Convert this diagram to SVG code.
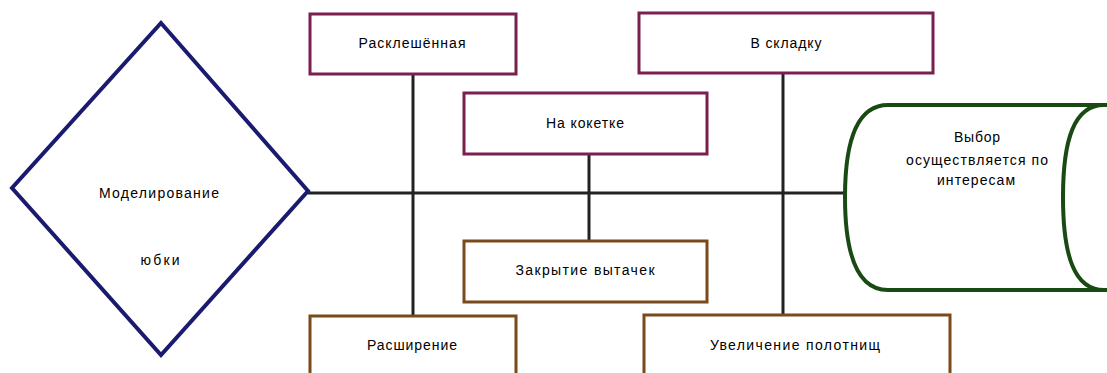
<svg xmlns="http://www.w3.org/2000/svg" width="1107" height="373" viewBox="0 0 1107 373">
<style>
text{font-family:"Liberation Sans",Arial,sans-serif;font-size:14px;fill:#000;text-anchor:middle}
.top{fill:#fff;stroke:#7b1f4f;stroke-width:3}
.bot{fill:#fff;stroke:#7a4a1a;stroke-width:3}
.ln{stroke:#222;stroke-width:3;fill:none}
.cyl{fill:none;stroke:#1a4a14;stroke-width:4}
</style>
<rect width="1107" height="373" fill="#fff"/>
<g id="connectors">
<line class="ln" x1="308" y1="193" x2="848" y2="193" stroke-width="4"/>
<line class="ln" x1="413" y1="74" x2="413" y2="316"/>
<line class="ln" x1="589" y1="154" x2="589" y2="241" stroke="#333"/>
<line class="ln" x1="783" y1="73" x2="783" y2="315"/>
</g>
<g id="n-model">
<polygon points="161,23 308,191 161,355 12,188" fill="#fff" stroke="#1a1a6e" stroke-width="4"/>
<text x="159" y="198" textLength="120" lengthAdjust="spacing">Моделирование</text>
<text x="160" y="265" textLength="39" lengthAdjust="spacing">юбки</text>
</g>
<g id="n-rasklesh">
<rect class="top" x="310" y="14" width="206" height="60"/>
<text x="412" y="48" textLength="107" lengthAdjust="spacing">Расклешённая</text>
</g>
<g id="n-kokietka">
<rect class="top" x="464" y="93" width="243" height="61"/>
<text x="585" y="128" textLength="78" lengthAdjust="spacing">На кокетке</text>
</g>
<g id="n-vskladku">
<rect class="top" x="639" y="13" width="294" height="60"/>
<text x="786" y="48" textLength="71" lengthAdjust="spacing">В складку</text>
</g>
<g id="n-vytachki">
<rect class="bot" x="464" y="241" width="243" height="61"/>
<text x="585" y="275" textLength="139" lengthAdjust="spacing">Закрытие вытачек</text>
</g>
<g id="n-rasshirenie">
<rect class="bot" x="310" y="316" width="206" height="70"/>
<text x="412" y="350" textLength="90" lengthAdjust="spacing">Расширение</text>
</g>
<g id="n-uvelichenie">
<rect class="bot" x="644" y="315" width="306" height="70"/>
<text x="795" y="350" textLength="170" lengthAdjust="spacing">Увеличение полотнищ</text>
</g>
<g id="n-vybor">
<path d="M888,105 L1112,105 L1112,290 L888,290 C858,290 845,255 845,197 C845,140 858,105 888,105 Z" fill="#fff" stroke="none"/>
<path class="cyl" d="M1112,105 L888,105 C858,105 845,140 845,197 C845,255 858,290 888,290 L1112,290"/>
<path class="cyl" d="M1104,105 C1074,105 1063,140 1063,197 C1063,255 1074,290 1104,290"/>
<text x="977" y="142" textLength="46" lengthAdjust="spacing">Выбор</text>
<text x="977" y="165" textLength="142" lengthAdjust="spacing">осуществляется по</text>
<text x="976" y="185" textLength="78" lengthAdjust="spacing">интересам</text>
</g>
</svg>
